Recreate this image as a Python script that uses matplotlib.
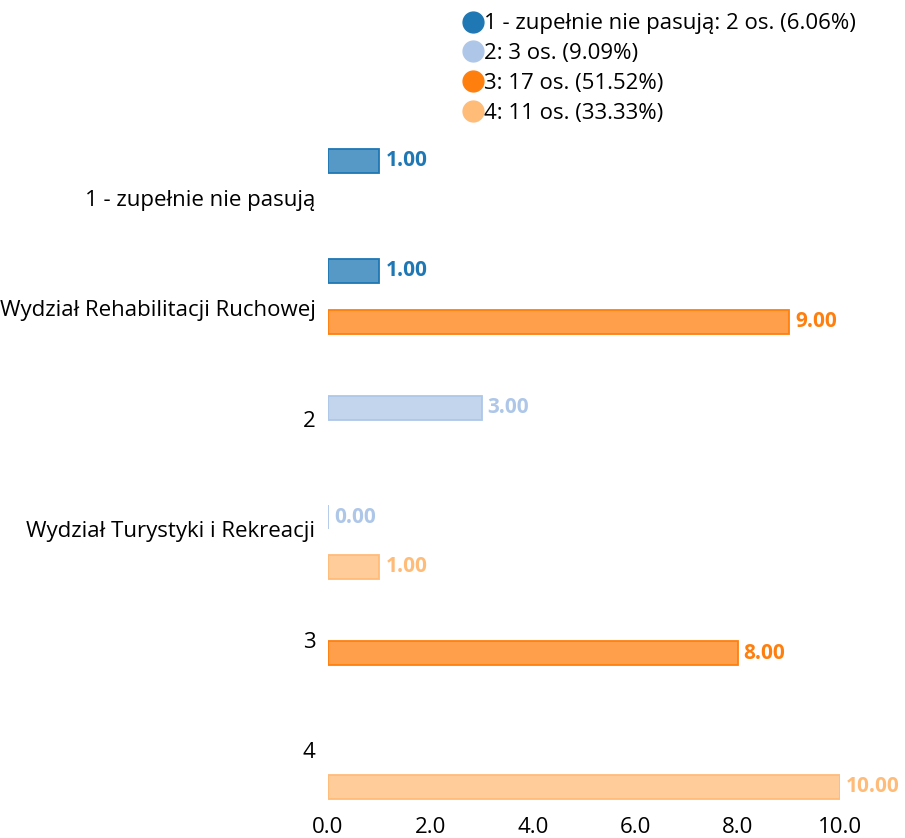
import matplotlib.pyplot as plt
from matplotlib.colors import to_rgba
from matplotlib.lines import Line2D

plt.rcParams['font.family'] = ['Open Sans', 'DejaVu Sans']

# series (answer levels) and their totals for the legend
series = ['1 - zupełnie nie pasują', '2', '3', '4']
counts = [2, 3, 17, 11]
percents = [6.06, 9.09, 51.52, 33.33]
colors = ['#1f77b4', '#aec7e8', '#ff7f0e', '#ffbb78']

# y tick labels as they appear in the chart
ytick_labels = ['1 - zupełnie nie pasują', 'Wydział Rehabilitacji Ruchowej', '2',
                'Wydział Turystyki i Rekreacji', '3', '4']

# bars: series index, value, slot on the y axis
bar_series = [0, 0, 2, 1, 1, 3, 2, 3]
bar_values = [1, 1, 9, 3, 0, 1, 8, 10]
bar_slots = [-0.335, 0.66, 1.12, 1.9, 2.89, 3.34, 4.12, 5.33]

fig = plt.figure(figsize=(9.05, 8.38), dpi=100)
ax = fig.add_axes([328 / 905, 38 / 838, 512 / 905, 660 / 838])

for s, v, y in zip(bar_series, bar_values, bar_slots):
    c = colors[s]
    ax.barh(y, v, height=0.22, color=to_rgba(c, 0.75), edgecolor=c, linewidth=1.3)
    ax.text(v + 0.12, y, f'{v:.2f}', color=c, fontsize=15, fontweight='bold',
            va='center', ha='left', clip_on=False)

ax.set_xlim(0, 10)
ax.set_ylim(5.45, -0.525)
ax.set_xticks(range(0, 11, 2))
ax.set_xticklabels([f'{t:.1f}' for t in range(0, 11, 2)], fontsize=16)
ax.set_yticks(range(len(ytick_labels)))
ax.set_yticklabels(ytick_labels, fontsize=16)
ax.tick_params(axis='y', length=0, pad=9)
ax.tick_params(axis='x', length=0, pad=12)
for sp in ax.spines.values():
    sp.set_visible(False)

handles = [Line2D([], [], marker='o', linestyle='', markersize=15, color=c)
           for c in colors]
labels = [f'{n}: {k} os. ({p:.2f}%)' for n, k, p in zip(series, counts, percents)]
fig.legend(handles, labels, loc='upper left', bbox_to_anchor=(440 / 905, 1.008),
           frameon=False, fontsize=16, handletextpad=-0.1, labelspacing=0.4,
           handlelength=1.2)

fig.savefig('out.png', dpi=100)
